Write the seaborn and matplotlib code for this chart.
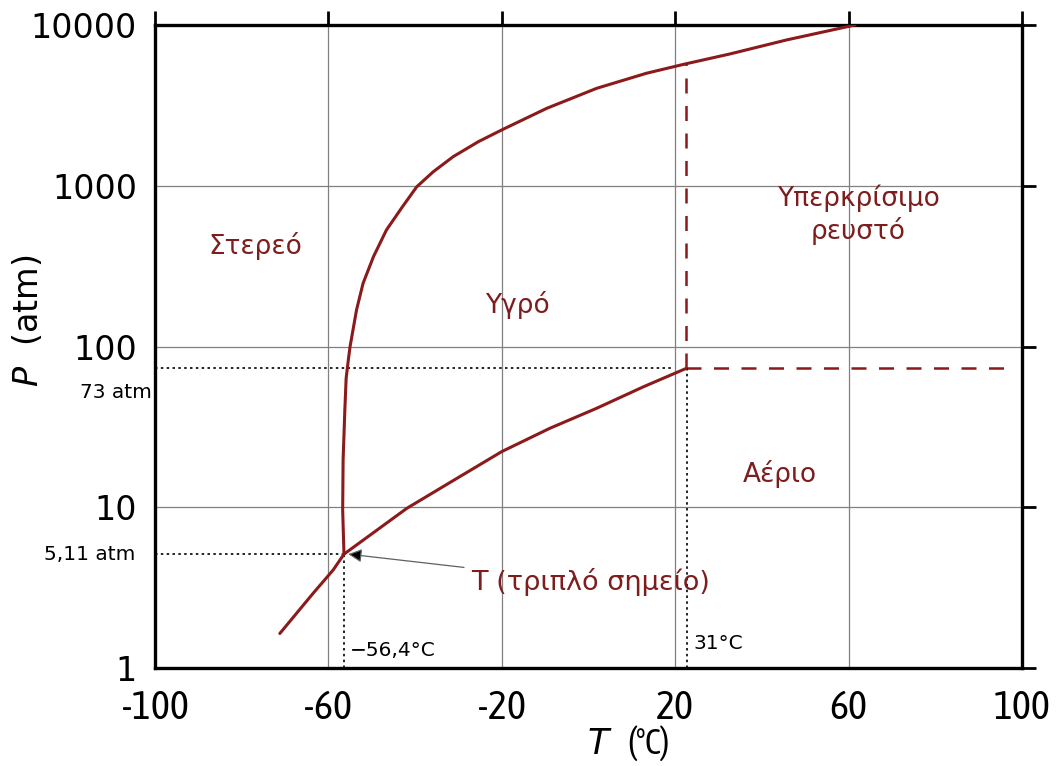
import matplotlib
matplotlib.use("Agg")
import matplotlib.pyplot as plt
from matplotlib import font_manager
import seaborn as sns
import pandas as pd

# Διάγραμμα φάσεων CO2 (σχηματικό)
melt_T = [-56.4, -56.7, -56.6, -56.2, -55.9, -55.4, -55.0, -53.5, -52.0, -49.6, -46.6, -42.9,
          -39.6, -35.8, -31.2, -25.4, -19.7, -9.6, 1.9, 13.4, 22.3, 32.6, 45.7, 61.5]
melt_P = [5.11, 9.6, 19.7, 40.3, 63.4, 82.4, 99.7, 169, 247, 362, 531, 741,
          986, 1222, 1517, 1880, 2245, 3033, 4037, 5010, 5720, 6600, 8070, 10000]

vap_T = [-56.4, -41.9, -30.4, -20.0, -8.9, 1.9, 12.7, 22.5]
vap_P = [5.11, 9.85, 15.1, 22.2, 31.0, 41.3, 56.2, 73]

sub_T = [-71.2, -63.5, -58.9, -56.4]
sub_P = [1.64, 2.92, 4.07, 5.11]

triple_T, triple_P = -56.4, 5.11
crit_T, crit_P = 22.5, 73
crit_top_P = 5720
dash_end_T = 97.2

x_ticks = [-100, -60, -20, 20, 60, 100]
y_ticks = [1, 10, 100, 1000, 10000]
y_labels = ["1", "10", "100", "1000", "10000"]

red = "#8b1a1a"
txt_red = "#7d1d1d"

sns.set_style("white", {"text.color": "black", "axes.labelcolor": "black",
                        "xtick.color": "black", "ytick.color": "black"})
plt.rcParams["font.family"] = ["DejaVu Sans"]

# στενή γραμματοσειρά για τον άξονα x, αν υπάρχει
narrow = None
for f in font_manager.fontManager.ttflist:
    if f.name == "Liberation Sans Narrow" or "Condensed" in f.name:
        narrow = f.name
        break
narrow_kw = dict(family=narrow) if narrow else dict(family="DejaVu Sans", stretch="condensed")

fig = plt.figure(figsize=(10.57, 7.66), dpi=100)
ax = fig.add_axes([0.1466, 0.1279, 0.8203, 0.8395])

curves = pd.concat([
    pd.DataFrame({"T": melt_T, "P": melt_P, "c": "melt"}),
    pd.DataFrame({"T": vap_T, "P": vap_P, "c": "vap"}),
    pd.DataFrame({"T": sub_T, "P": sub_P, "c": "sub"}),
])
for name, d in curves.groupby("c"):
    sns.lineplot(data=d, x="T", y="P", sort=False, color=red, lw=2.2, ax=ax, zorder=4)

ax.set_yscale("log")
ax.set_xlim(-100, 100)
ax.set_ylim(1, 10000)

# διακεκομμένες γραμμές υπερκρίσιμης περιοχής
ax.plot([crit_T, crit_T], [crit_P, crit_top_P], color=red, lw=1.8, ls=(0, (6, 5)), zorder=3)
ax.plot([crit_T, dash_end_T], [crit_P, crit_P], color=red, lw=1.8, ls=(0, (6, 5)), zorder=3)

# βοηθητικές γραμμές
dot = dict(color="black", lw=1.2, ls=(0, (1.5, 2)), zorder=3)
ax.plot([-100, crit_T - 3], [crit_P, crit_P], **dot)
ax.plot([-100, triple_T], [triple_P, triple_P], **dot)
ax.plot([triple_T, triple_T], [1, triple_P], **dot)
ax.plot([crit_T + 0.3, crit_T + 0.3], [1, crit_P], **dot)

ax.set_xticks(x_ticks)
ax.set_xticklabels([str(v) for v in x_ticks], fontsize=29, **narrow_kw)
ax.set_yticks(y_ticks)
ax.set_yticklabels(y_labels, fontsize=24)
ax.minorticks_off()
ax.tick_params(axis="both", direction="out", length=10, width=2, top=True, right=True,
               color="black")
ax.tick_params(axis="x", pad=5)
ax.tick_params(axis="y", pad=3)
ax.grid(True, color="#808080", lw=0.9)
for s in ax.spines.values():
    s.set_linewidth(2.4)
    s.set_color("black")

ax.set_xlabel(r"$T\;\;$(°C)", fontsize=25, **narrow_kw)
ax.xaxis.set_label_coords(0.5455, -0.086)
ax.set_ylabel(r"$P$  (atm)", fontsize=24)
ax.yaxis.set_label_coords(-0.127, 0.54)

# ετικέτες περιοχών
lab = dict(color=txt_red, fontsize=19, ha="center", va="center")
ax.text(-76.9, 420, "Στερεό", **lab)
ax.text(-16.3, 181, "Υγρό", **lab)
ax.text(62.2, 658, "Υπερκρίσιμο\nρευστό", linespacing=1.25, **lab)
ax.text(44.2, 16.1, "Αέριο", **lab)
ax.annotate("T (τριπλό σημείο)", xy=(triple_T + 1.0, triple_P), xytext=(-27.0, 3.43),
            color=txt_red, fontsize=19.5, ha="left", va="center",
            arrowprops=dict(arrowstyle="-|>", ec="#606060", fc="black", lw=0.9,
                            mutation_scale=20, shrinkA=3, shrinkB=0))

ax.text(-100.7, 51.4, "73 atm", fontsize=14.5, ha="right", va="center")
ax.text(-104.5, 5.11, "5,11 atm", fontsize=14.5, ha="right", va="center")
ax.text(-55.0, 1.29, "−56,4°C", fontsize=14.5, ha="left", va="center")
ax.text(24.3, 1.43, "31°C", fontsize=14.5, ha="left", va="center")

fig.savefig("out.png", dpi=100)
